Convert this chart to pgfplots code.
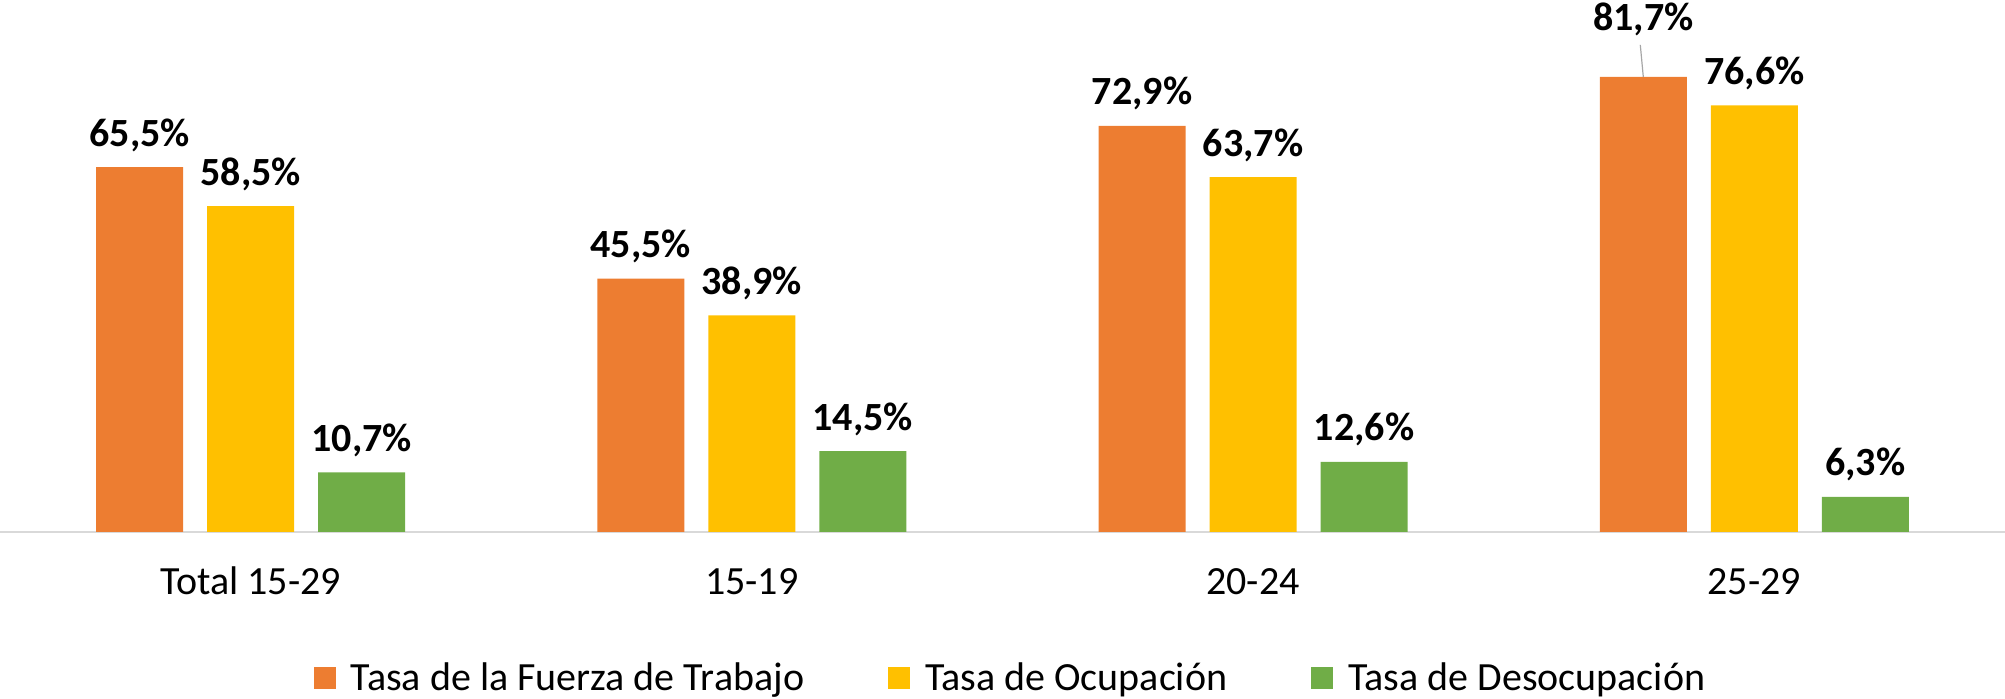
\documentclass[border=0pt]{standalone}
\usepackage{pgfplots}
\pgfplotsset{compat=1.18}
\usepackage{fontspec}
\setmainfont{Carlito}
\definecolor{cOr}{HTML}{ED7D31}
\definecolor{cYe}{HTML}{FFC000}
\definecolor{cGr}{HTML}{70AD47}
\definecolor{cAx}{HTML}{D9D9D9}
\begin{document}
\begin{tikzpicture}
\useasboundingbox (0,0) rectangle (1002.5pt,349.5pt);
\begin{axis}[
  at={(0pt,83.5pt)}, anchor=south west,
  scale only axis, width=1002.5pt, height=266pt,
  xmin=-0.5, xmax=3.5, ymin=0, ymax=95.5,
  axis x line*=bottom, axis y line=none,
  axis line style={draw=cAx, line width=1pt},
  xtick={0,1,2,3}, xticklabels={Total 15-29,15-19,20-24,25-29},
  major tick length=0pt,
  xticklabel style={anchor=base, yshift=-31.5pt, inner sep=0pt, font=\fontsize{20pt}{22pt}\selectfont},
  ytick=\empty,
  clip=false,
  bar width=43.5pt,
  nodes near coords={\pgfmathprintnumber[fixed,zerofill,precision=1,use comma,assume math mode=true]{\pgfplotspointmeta}\%},
  every node near coord/.append style={font=\fontsize{20pt}{22pt}\selectfont\bfseries, anchor=base, inner sep=0pt, yshift=10.5pt, text=black},
  legend columns=3,
  legend style={at={(axis description cs:0.5045,-0.2744)}, anchor=center, draw=none, fill=none,
    font=\fontsize{20pt}{22pt}\selectfont,
    /tikz/every odd column/.append style={column sep=5.5pt},
    /tikz/every even column/.append style={column sep=40pt}},
  legend image code/.code={\fill[#1] (0pt,-5.5pt) rectangle (11pt,5.5pt);},
]
\addplot[ybar, fill=cOr, draw=none, bar shift=-55.5pt,
  every node near coord/.append style={xshift=-55.5pt},
  coordinate style/.condition={\coordindex==3}{yshift=12.5pt}]
  coordinates {(0,65.5) (1,45.5) (2,72.9) (3,81.7)};
\addlegendentry{Tasa de la Fuerza de Trabajo}
\addplot[ybar, fill=cYe, draw=none, bar shift=0pt]
  coordinates {(0,58.5) (1,38.9) (2,63.7) (3,76.6)};
\addlegendentry{Tasa de Ocupación}
\addplot[ybar, fill=cGr, draw=none, bar shift=55.5pt,
  every node near coord/.append style={xshift=55.5pt}]
  coordinates {(0,10.7) (1,14.5) (2,12.6) (3,6.3)};
\addlegendentry{Tasa de Desocupación}
\draw[gray!70, line width=0.6pt] ([xshift=-57pt,yshift=16pt]axis cs:3,81.7) -- ([xshift=-55.5pt]axis cs:3,81.7);
\end{axis}
\end{tikzpicture}
\end{document}
